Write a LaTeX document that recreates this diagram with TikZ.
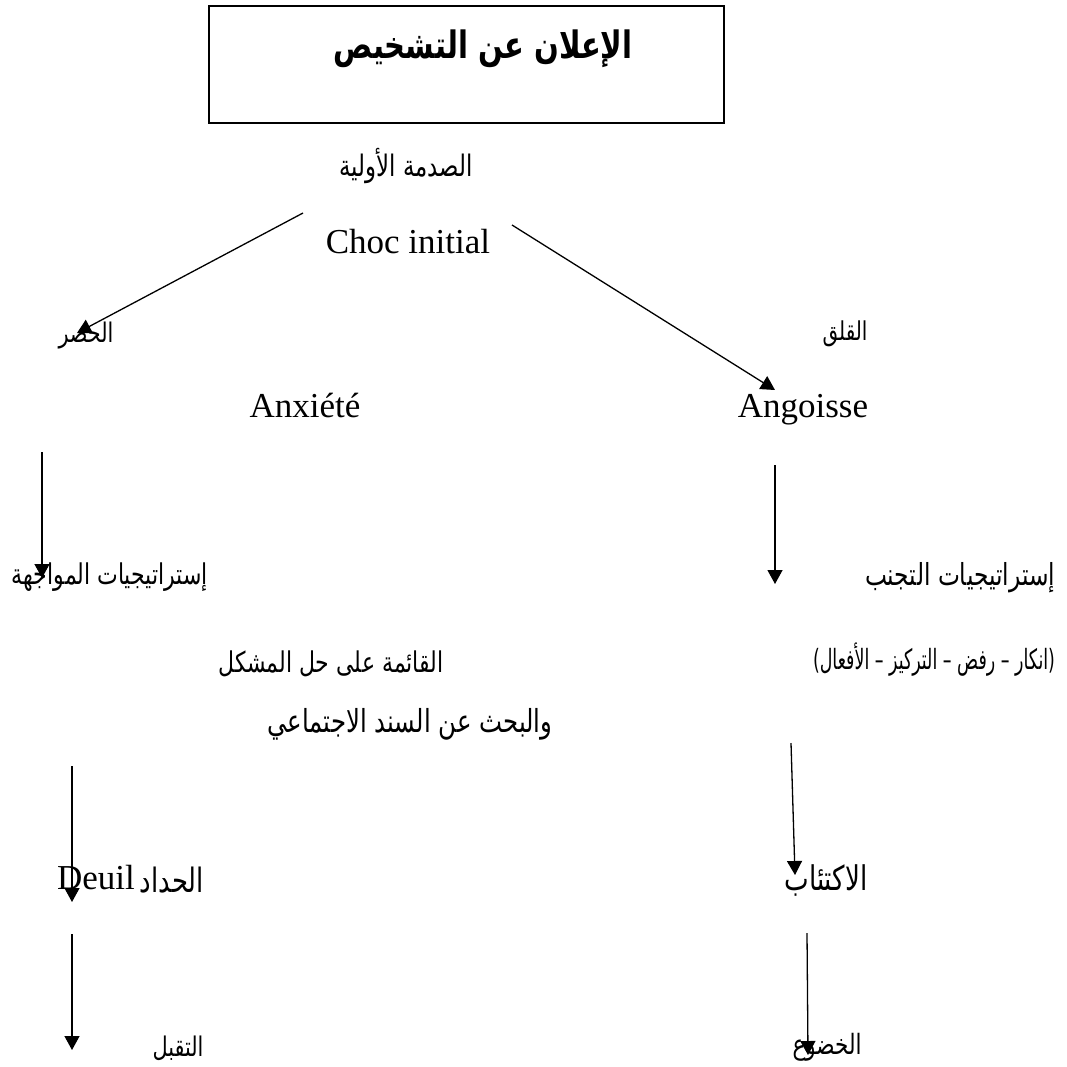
\documentclass[tikz,border=0pt]{standalone}
\usepackage{fontspec}
\usepackage{graphicx}
\setmainfont{Liberation Serif}
\newfontfamily\arabicfont[Script=Arabic]{DejaVu Sans}
\TeXXeTstate=1
\usetikzlibrary{arrows.meta}
\newcommand{\ARtxt}[2]{\scalebox{1}[1.3]{\resizebox{#1pt}{!}{\arabicfont #2}}}
\newcommand{\ARtall}[2]{\scalebox{1}[1.6]{\resizebox{#1pt}{!}{\arabicfont #2}}}
\newcommand{\ARbold}[2]{\scalebox{1}[1.3]{\resizebox{#1pt}{!}{\arabicfont\bfseries #2}}}
\tikzset{
  lbl/.style={inner sep=0pt, anchor=center},
  latin/.style={inner sep=0pt, anchor=base, font=\fontsize{35}{40}\selectfont},
  arr/.style={line width=1.3pt, -{Triangle[length=14pt,width=15pt]}},
  titlebox/.style={draw, line width=1.5pt, minimum width=515pt, minimum height=117pt, inner sep=0pt}
}
\begin{document}
\begin{tikzpicture}[x=1pt,y=-1pt]
\fill[white] (0,0) rectangle (1067,1066);
\useasboundingbox (0,0) rectangle (1067,1066);

\node[titlebox] (box) at (466.5,64.5) {};
\node[lbl] (title) at (483,49) {\ARbold{299}{\beginR الإعلان عن التشخيص\endR}};

\node[lbl] (shock) at (406,166) {\ARtxt{133}{\beginR الصدمة الأولية\endR}};
\node[latin] (choc) at (408,253) {Choc initial};

\node[lbl] (hasr) at (86,336) {\ARtxt{55}{\beginR الحصر\endR}};
\node[lbl] (qalaq) at (845,334) {\ARtxt{45}{\beginR القلق\endR}};

\node[latin] (anx) at (305,417) {Anxiété};
\node[latin] (ang) at (803,417) {Angoisse};

\node[lbl] (confr) at (110,577) {\ARtxt{196}{\beginR إستراتيجيات المواجهة\endR}};
\node[lbl] (avoid) at (960,578) {\ARtxt{190}{\beginR إستراتيجيات التجنب\endR}};

\node[lbl] (prob) at (331,664) {\ARtxt{225}{\beginR القائمة على حل المشكل\endR}};
\node[lbl] (soc) at (410,724) {\ARtxt{285}{\beginR والبحث عن السند الاجتماعي\endR}};
\node[lbl] (list) at (934,660) {\ARtall{242}{\hbox{)}\hbox{\beginR انكار – رفض – التركيز – الأفعال\endR}\hbox{(}}};

\node[latin] (deuil) at (96,889) {Deuil};
\node[lbl] (hidad) at (172,880) {\ARtxt{64}{\beginR الحداد\endR}};
\node[lbl] (ikt) at (826,880) {\ARtxt{83}{\beginR الاكتئاب\endR}};

\node[lbl] (taq) at (178,1048) {\ARtxt{51}{\beginR التقبل\endR}};
\node[lbl] (khud) at (827,1047) {\ARtxt{69}{\beginR الخضوع\endR}};

\coordinate (s1) at (303,213); \coordinate (e1) at (77,333);
\coordinate (s2) at (512,225); \coordinate (e2) at (775,390);
\coordinate (s3) at (42,452);  \coordinate (e3) at (42,578);
\coordinate (s4) at (775,465); \coordinate (e4) at (775,584);
\coordinate (s5) at (72,766);  \coordinate (e5) at (72,902);
\coordinate (s6) at (791,743); \coordinate (e6) at (795,875);
\coordinate (s7) at (72,934);  \coordinate (e7) at (72,1050);
\coordinate (s8) at (807,933); \coordinate (e8) at (808,1055);

\draw[arr] (s1) -- (e1);
\draw[arr] (s2) -- (e2);
\draw[arr] (s3) -- (e3);
\draw[arr] (s4) -- (e4);
\draw[arr] (s5) -- (e5);
\draw[arr] (s6) -- (e6);
\draw[arr] (s7) -- (e7);
\draw[arr] (s8) -- (e8);
\end{tikzpicture}
\end{document}
